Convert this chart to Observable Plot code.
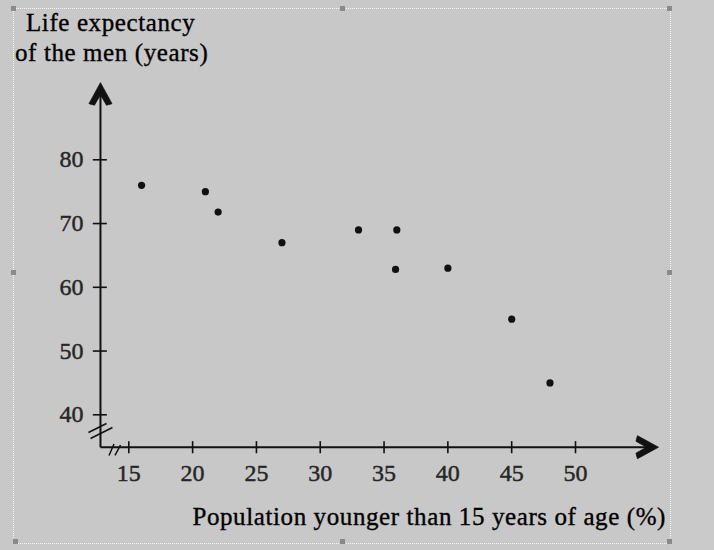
<!DOCTYPE html>
<html>
<head>
<meta charset="utf-8">
<script src="https://cdn.jsdelivr.net/npm/d3@7"></script>
<script src="https://cdn.jsdelivr.net/npm/@observablehq/plot@0.6"></script>
<style>
  html, body { margin: 0; padding: 0; background: #c8c8c8; }
  #wrap { position: relative; width: 714px; height: 550px; background: #c8c8c8; overflow: hidden; font-family: "Liberation Serif", "Times New Roman", serif; color: #000; }
  #strip { position: absolute; left: 671px; top: 0; width: 43px; height: 550px; background: #cacaca; }
  #frame { position: absolute; left: 13px; top: 8px; width: 656px; height: 534px; border: 1px dotted #f6f6f6; }
  .handle { position: absolute; width: 5px; height: 5px; background: #8a8a8a; }
  .txt { position: absolute; font-size: 25px; line-height: 30px; white-space: nowrap; letter-spacing: 0.6px; -webkit-text-stroke: 0.35px #000; }
  #chart { position: absolute; left: 0; top: 0; }
  #chart svg text { font-family: "Liberation Serif", "Times New Roman", serif !important; }
</style>
</head>
<body>
<div id="wrap">
  <div id="strip"></div>
  <div id="frame"></div>
  <div class="handle" style="left:11px;top:6px"></div>
  <div class="handle" style="left:340px;top:6px"></div>
  <div class="handle" style="left:667px;top:6px"></div>
  <div class="handle" style="left:11px;top:270px"></div>
  <div class="handle" style="left:667px;top:270px"></div>
  <div class="handle" style="left:13px;top:539px"></div>
  <div class="handle" style="left:340px;top:539px"></div>
  <div class="handle" style="left:667px;top:539px"></div>
  <div id="chart"></div>
  <div class="txt" id="t1" style="left:26px;top:8px">Life expectancy</div>
  <div class="txt" id="t2" style="left:15px;top:38px">of the men (years)</div>
  <div class="txt" id="xl" style="right:48px;top:502px;text-align:right">Population younger than 15 years of age (%)</div>
</div>
<script>
// Data
const youngPct = [16, 21, 22, 27, 33, 36, 35.9, 40, 45, 48];
const lifeExp  = [76, 75, 71.8, 67, 69, 69, 62.8, 63, 55, 45];
const xTicks = [15, 20, 25, 30, 35, 40, 45, 50];
const yTicks = [40, 50, 60, 70, 80];

// Axis extents (data units)
const xOrigin = 12.78, xEnd = 56.5;
const yOrigin = 34.92, yEnd = 92.1;
// axis-break slashes (data units)
const yBreaks = [[11.84, 37.22, 13.25, 38.64], [12.0, 36.28, 13.72, 38.01]];
const xBreaks = [[13.45, 33.62, 13.84, 35.42], [13.92, 33.62, 14.35, 35.26]];

const points = youngPct.map((x, i) => ({x, y: lifeExp[i]}));

const chevron = {
  draw(ctx) {
    ctx.moveTo(0, 0);
    ctx.lineTo(11.5, 21);
    ctx.lineTo(6, 22.5);
    ctx.lineTo(0, 12);
    ctx.lineTo(-6, 22.5);
    ctx.lineTo(-11.5, 21);
    ctx.closePath();
  }
};

const ink = "#111";
const serif = "Liberation Serif, Times New Roman, serif";
const chart = Plot.plot({
  width: 714,
  height: 550,
  margin: 0,
  style: {background: "transparent", overflow: "visible", fontFamily: serif},
  x: {domain: [15, 50], range: [128.3, 575], axis: null},
  y: {domain: [40, 80], range: [414.3, 159.3], axis: null},
  marks: [
    // axes lines
    Plot.link([0], {x1: xOrigin, x2: xEnd - 0.3, y1: yOrigin, y2: yOrigin, stroke: ink, strokeWidth: 2}),
    Plot.link([0], {x1: xOrigin, x2: xOrigin, y1: yOrigin, y2: yEnd - 0.5, stroke: ink, strokeWidth: 2}),
    // arrowheads
    Plot.dot([0], {x: xOrigin, y: yEnd, symbol: chevron, fill: ink, stroke: ink, strokeWidth: 0.8, rotate: 0}),
    Plot.dot([0], {x: xEnd, y: yOrigin, symbol: chevron, fill: ink, stroke: ink, strokeWidth: 0.8, rotate: 90}),
    // ticks
    Plot.link(xTicks, {x1: d => d, x2: d => d, y1: yOrigin - 0.95, y2: yOrigin + 0.95, stroke: ink, strokeWidth: 1.6}),
    Plot.link(yTicks, {y1: d => d, y2: d => d, x1: xOrigin - 0.6, x2: xOrigin + 0.5, stroke: ink, strokeWidth: 1.6}),
    // breaks
    Plot.link(yBreaks, {x1: d => d[0], y1: d => d[1], x2: d => d[2], y2: d => d[3], stroke: ink, strokeWidth: 1.5}),
    Plot.link(xBreaks, {x1: d => d[0], y1: d => d[1], x2: d => d[2], y2: d => d[3], stroke: ink, strokeWidth: 1.5}),
    // tick labels
    Plot.text(xTicks, {x: d => d, y: yOrigin, text: d => String(d), dy: 26, lineAnchor: "middle", textAnchor: "middle",
      fontSize: 24, fontFamily: serif, fill: "#262626", stroke: "#262626", strokeWidth: 0.45}),
    Plot.text(yTicks, {x: xOrigin, y: d => d, text: d => String(d), dx: -17, lineAnchor: "middle", textAnchor: "end",
      fontSize: 24, fontFamily: serif, fill: "#262626", stroke: "#262626", strokeWidth: 0.45}),
    // data points
    Plot.dot(points, {x: "x", y: "y", r: 3.6, fill: ink, stroke: "none"})
  ]
});
document.getElementById("chart").appendChild(chart);
</script>
</body>
</html>
